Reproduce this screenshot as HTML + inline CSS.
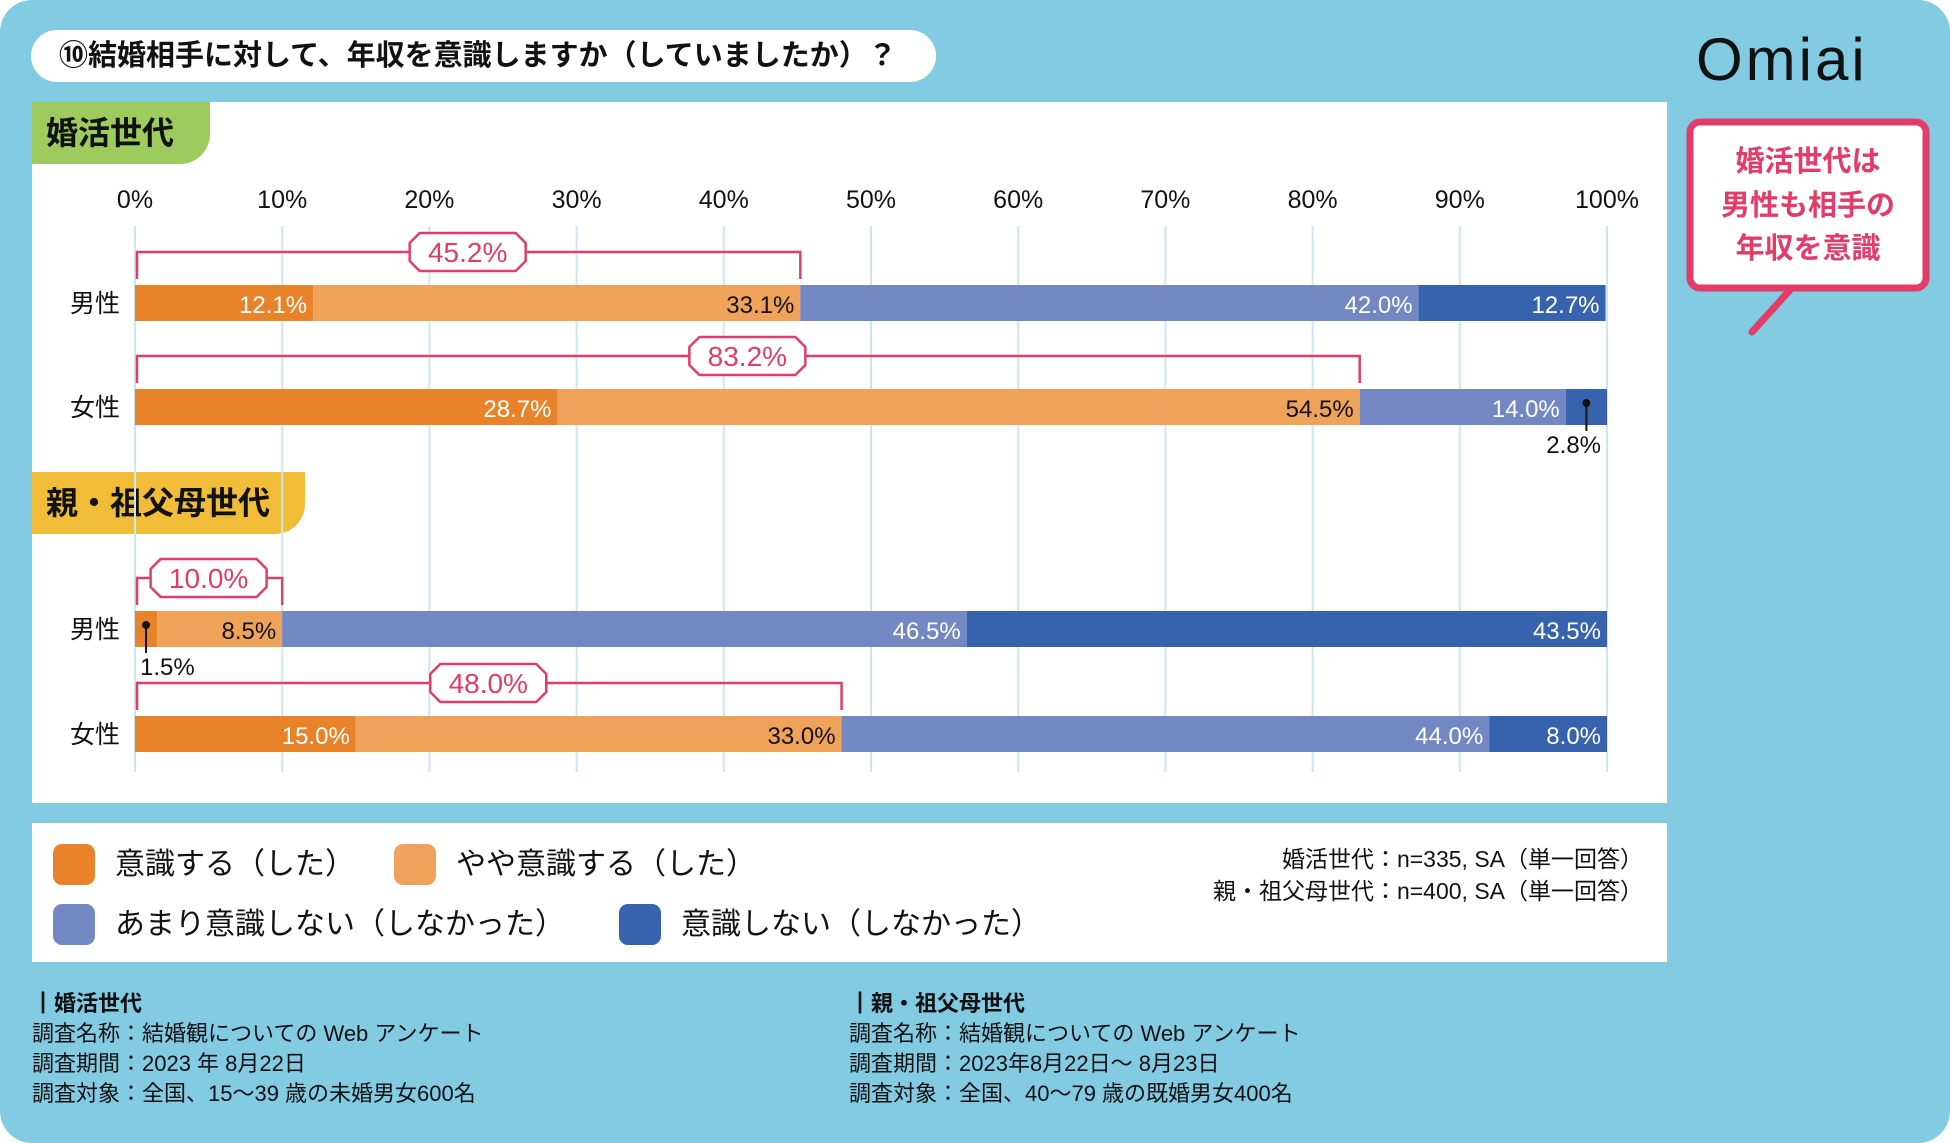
<!DOCTYPE html>
<html><head><meta charset="utf-8">
<style>
*{margin:0;padding:0;box-sizing:border-box}
body{width:1950px;height:1143px;background:#fff;font-family:"Liberation Sans","Noto Sans CJK JP",sans-serif;overflow:hidden}
#bg{position:absolute;left:0;top:0;width:1950px;height:1143px;background:#82CBE3;border-radius:32px}
.abs{position:absolute}
#title{left:31px;top:30px;width:905px;height:52px;background:#fff;border-radius:26px;font-size:29px;line-height:52px;padding-left:28px;color:#111;font-weight:bold}
#panel{left:32px;top:102px;width:1635px;height:701px;background:#fff}
#legend{left:32px;top:823px;width:1635px;height:139px;background:#fff}
.badge{font-size:32px;font-weight:bold;color:#111;line-height:62px;padding-left:14px;border-radius:0 0 30px 0}
.sw{width:42px;height:41px;border-radius:9px}
.lt{font-size:30px;color:#111;line-height:41px}
.note{font-size:23px;color:#111;text-align:right;right:307px}
.foot{font-size:22px;color:#111;line-height:30px}
</style></head><body>
<div id="bg"></div>
<div id="title" class="abs">⑩結婚相手に対して、年収を意識しますか（していましたか）？</div>
<div class="abs" style="left:1696px;top:22px;width:200px;height:75px;font-size:60px;font-weight:normal;color:#111;letter-spacing:3px;line-height:75px">Omiai</div>
<svg class="abs" style="left:1680px;top:110px" width="260" height="230">
<rect x="10" y="12" width="236" height="166" rx="10" fill="#fff" stroke="#E23C68" stroke-width="7"/>
<path d="M110 180 L72 222" stroke="#E23C68" stroke-width="7" stroke-linecap="round" fill="none"/>
<text x="128" y="61" font-size="29" font-weight="bold" fill="#E23C68" text-anchor="middle" font-family="Liberation Sans,Noto Sans CJK JP,sans-serif">婚活世代は</text>
<text x="128" y="105" font-size="29" font-weight="bold" fill="#E23C68" text-anchor="middle" font-family="Liberation Sans,Noto Sans CJK JP,sans-serif">男性も相手の</text>
<text x="128" y="148" font-size="29" font-weight="bold" fill="#E23C68" text-anchor="middle" font-family="Liberation Sans,Noto Sans CJK JP,sans-serif">年収を意識</text>
</svg>
<div id="panel" class="abs"></div>
<div class="abs badge" style="left:32px;top:102px;width:178px;height:62px;background:#9DCB5E">婚活世代</div>
<div class="abs badge" style="left:32px;top:472px;width:273px;height:62px;background:#F1BD38">親・祖父母世代</div>
<svg id="chart" class="abs" style="left:0;top:0" width="1950" height="800"></svg>
<div id="legend" class="abs"></div>
<div class="abs sw" style="left:53px;top:844px;background:#E9832A"></div>
<div class="abs lt" style="left:115px;top:844px">意識する（した）</div>
<div class="abs sw" style="left:394px;top:844px;background:#EFA35A"></div>
<div class="abs lt" style="left:456px;top:844px">やや意識する（した）</div>
<div class="abs sw" style="left:53px;top:904px;background:#7387C2"></div>
<div class="abs lt" style="left:115px;top:904px">あまり意識しない（しなかった）</div>
<div class="abs sw" style="left:619px;top:904px;background:#3763AE"></div>
<div class="abs lt" style="left:681px;top:904px">意識しない（しなかった）</div>
<div class="abs note" style="top:840px">婚活世代：n=335, SA（単一回答）</div>
<div class="abs note" style="top:872px">親・祖父母世代：n=400, SA（単一回答）</div>
<div class="abs foot" style="left:32px;top:989px"><b>┃婚活世代</b><br>調査名称：結婚観についての Web アンケート<br>調査期間：2023 年 8月22日<br>調査対象：全国、15～39 歳の未婚男女600名</div>
<div class="abs foot" style="left:849px;top:989px"><b>┃親・祖父母世代</b><br>調査名称：結婚観についての Web アンケート<br>調査期間：2023年8月22日～ 8月23日<br>調査対象：全国、40～79 歳の既婚男女400名</div>
<script>
const rowLabels = ["男性","女性","男性","女性"];
const seriesConscious = [12.1, 28.7, 1.5, 15.0];
const seriesSomewhat = [33.1, 54.5, 8.5, 33.0];
const seriesNotMuch = [42.0, 14.0, 46.5, 44.0];
const seriesNot = [12.7, 2.8, 43.5, 8.0];
const totals = ["45.2%","83.2%","10.0%","48.0%"];
const tickValues = [0,10,20,30,40,50,60,70,80,90,100];

const NS="http://www.w3.org/2000/svg";
const svg=document.getElementById('chart');
const x0=135, x1=1607;
const xs=v=>x0+(x1-x0)*v/100;
const rowTop=[285,389,611,716];
const barH=36;
const colors=["#E9832A","#EFA35A","#7387C2","#3763AE"];
const labelDark=[false,true,false,false];
const FONT='Liberation Sans, Noto Sans CJK JP, sans-serif';
function mk(t,a){const e=document.createElementNS(NS,t);for(const k in a)e.setAttribute(k,a[k]);svg.appendChild(e);return e;}

tickValues.forEach((t,i)=>{
  const g=mk('line',{x1:xs(t),x2:xs(t),y1:226,y2:772,stroke:'#CDE7F2','stroke-width':2});
  
  
  const tx=mk('text',{x:xs(t),y:208,'font-size':25,'text-anchor':'middle',fill:'#111','font-family':FONT});
  tx.textContent=t+'%';
  
  
});

const all=[seriesConscious,seriesSomewhat,seriesNotMuch,seriesNot];
rowLabels.forEach((lab,r)=>{
  const y=rowTop[r];
  const cl=mk('text',{x:95,y:y+barH/2+9,'font-size':25,'text-anchor':'middle',fill:'#111','font-family':FONT});
  cl.textContent=lab;
  
  
  let cum=0;
  all.forEach((s,k)=>{
    const v=s[r];
    const a=xs(cum), b=xs(cum+v);
    const rect=mk('rect',{x:a,y:y,width:b-a,height:barH,fill:colors[k]});
    
    
    const txt=v.toFixed(1)+'%';
    if(v>=5){
      const t=mk('text',{x:b-6,y:y+barH/2+10,'font-size':24,'text-anchor':'end',fill:labelDark[k]?'#111':'#fff','font-family':FONT});
      t.textContent=txt;
      
      
    } else {
      const px=(a+b)/2;
      mk('circle',{cx:px,cy:y+14,r:4,fill:'#111'});
      mk('line',{x1:px,x2:px,y1:y+14,y2:y+barH+6,stroke:'#111','stroke-width':2});
      const anchor=r===1?'end':'start';
      const t=mk('text',{x:r===1?b-6:px-6,y:y+barH+28,'font-size':24,'text-anchor':anchor,fill:'#111','font-family':FONT});
      t.textContent=txt;
      
      
    }
    cum+=v;
  });
  const tot=seriesConscious[r]+seriesSomewhat[r];
  const by=y-33, bx=xs(tot);
  const br=mk('path',{d:`M${x0+2} ${y-6} V${by} H${bx} V${y-6}`,fill:'none',stroke:'#E23C68','stroke-width':2.5});
  
  
  const cx=xs(tot/2), w=116, h=38;
  mk('path',{d:`M${cx-w/2+10} ${by-h/2} H${cx+w/2-10} L${cx+w/2} ${by-h/2+10} V${by+h/2-10} L${cx+w/2-10} ${by+h/2} H${cx-w/2+10} L${cx-w/2} ${by+h/2-10} V${by-h/2+10} Z`,fill:'#fff',stroke:'#E23C68','stroke-width':2.5,'stroke-linejoin':'round'});
  const tt=mk('text',{x:cx,y:by+10,'font-size':28,'text-anchor':'middle',fill:'#E23C68','font-family':FONT});
  tt.textContent=totals[r];
  
  
});
</script>
</body></html>
